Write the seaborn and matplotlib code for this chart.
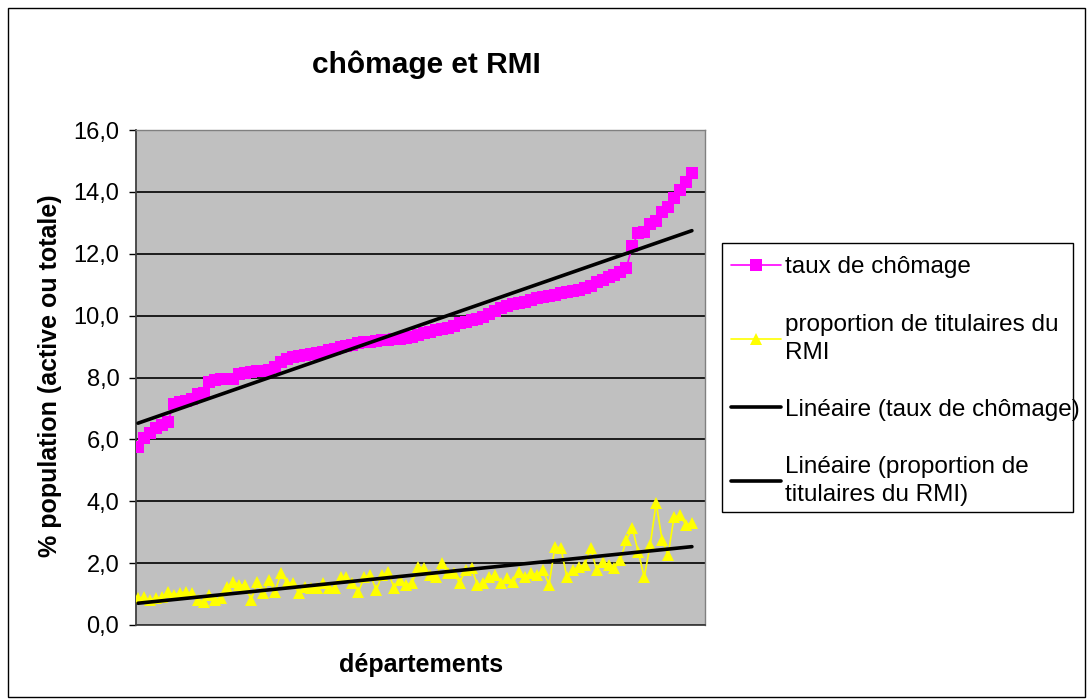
import numpy as np
import pandas as pd
import matplotlib
matplotlib.use("Agg")
import matplotlib.pyplot as plt
from matplotlib.lines import Line2D
from matplotlib.patches import Rectangle
from matplotlib.ticker import FuncFormatter
import seaborn as sns

# ---- data ----
chomage = [5.75, 6.05, 6.2, 6.38, 6.46, 6.56, 7.15, 7.2, 7.24, 7.3,
           7.47, 7.5, 7.86, 7.92, 7.95, 7.95, 7.96, 8.1, 8.15, 8.18,
           8.2, 8.2, 8.25, 8.35, 8.5, 8.6, 8.65, 8.7, 8.73, 8.76,
           8.8, 8.84, 8.88, 8.92, 8.97, 9.02, 9.06, 9.1, 9.14, 9.16,
           9.18, 9.2, 9.22, 9.24, 9.26, 9.29, 9.32, 9.38, 9.43, 9.47,
           9.52, 9.56, 9.61, 9.68, 9.76, 9.8, 9.86, 9.9, 9.97, 10.05,
           10.15, 10.25, 10.3, 10.36, 10.4, 10.45, 10.52, 10.57, 10.6, 10.62,
           10.67, 10.72, 10.75, 10.79, 10.83, 10.9, 10.97, 11.08, 11.16, 11.24,
           11.3, 11.4, 11.55, 12.25, 12.67, 12.7, 12.95, 13.05, 13.35, 13.5,
           13.8, 14.06, 14.32, 14.6]

rmi = [0.87, 0.9, 0.8, 0.87, 0.9, 1.07, 0.97, 1.03, 1.07, 1.03,
       0.8, 0.75, 0.97, 0.8, 0.87, 1.23, 1.39, 1.29, 1.29, 0.8,
       1.39, 1.03, 1.45, 1.07, 1.68, 1.36, 1.36, 1.03, 1.23, 1.2,
       1.2, 1.36, 1.2, 1.2, 1.55, 1.55, 1.36, 1.07, 1.55, 1.62,
       1.13, 1.62, 1.71, 1.2, 1.45, 1.29, 1.36, 1.87, 1.84, 1.62,
       1.55, 2.0, 1.68, 1.68, 1.36, 1.78, 1.84, 1.29, 1.36, 1.55,
       1.62, 1.36, 1.52, 1.39, 1.71, 1.55, 1.68, 1.62, 1.78, 1.29,
       2.52, 2.49, 1.55, 1.78, 1.87, 1.94, 2.49, 1.78, 2.04, 1.94,
       1.84, 2.1, 2.75, 3.13, 2.36, 1.55, 2.59, 3.94, 2.75, 2.26,
       3.49, 3.55, 3.23, 3.3]

yticks = [0, 2, 4, 6, 8, 10, 12, 14, 16]

title = "chômage et RMI"
xlabel = "départements"
ylabel = "% population (active ou totale)"
lab_chom = "taux de chômage"
lab_rmi = "proportion de titulaires du\nRMI"
lab_tr1 = "Linéaire (taux de chômage)"
lab_tr2 = "Linéaire (proportion de\ntitulaires du RMI)"

df = pd.DataFrame({"dept": np.arange(len(chomage)), "chomage": chomage, "rmi": rmi})

# ---- figure ----
sns.set_style("white")
plt.rcParams["font.family"] = ["Liberation Sans", "DejaVu Sans"]
plt.rcParams["text.color"] = "black"
plt.rcParams["axes.labelcolor"] = "black"
plt.rcParams["ytick.color"] = "black"
plt.rcParams["xtick.color"] = "black"

W, H = 1092, 700
fig = plt.figure(figsize=(W / 100, H / 100), dpi=100)
fig.patch.set_facecolor("white")

def fx(px):
    return px / W

def fy(py):
    return 1 - py / H

left, right, top, bottom = 136, 705, 130, 625
ax = fig.add_axes([fx(left), fy(bottom), fx(right) - fx(left), fy(top) - fy(bottom)])
ax.set_facecolor("#C0C0C0")

magenta = "#FF00FF"
yellow = "#FFFF00"

sns.lineplot(data=df, x="dept", y="chomage", ax=ax, color=magenta, lw=1.2,
             marker="s", markersize=8, markeredgewidth=0, markerfacecolor=magenta,
             zorder=3, legend=False)
sns.lineplot(data=df, x="dept", y="rmi", ax=ax, color=yellow, lw=1.2,
             marker="^", markersize=9, markeredgewidth=0, markerfacecolor=yellow,
             zorder=3, legend=False)

sns.regplot(data=df, x="dept", y="chomage", ax=ax, scatter=False, ci=None,
            color="black", line_kws={"lw": 2.6, "zorder": 4})
sns.regplot(data=df, x="dept", y="rmi", ax=ax, scatter=False, ci=None,
            color="black", line_kws={"lw": 2.6, "zorder": 4})

n = len(chomage)
ax.set_xlim(-0.34, n - 1 + 2.2)
ax.set_ylim(0, 16)
ax.set_yticks(yticks)
ax.yaxis.set_major_formatter(FuncFormatter(lambda v, p: f"{v:.1f}".replace(".", ",")))
ax.set_xticks([])
ax.grid(axis="y", color="black", lw=1.2, zorder=1)
ax.set_axisbelow(True)
ax.tick_params(axis="y", direction="out", length=5, width=1, color="black",
               labelcolor="black", labelsize=17, pad=7, left=True)
ax.set_xlabel("")
ax.set_ylabel("")

for s in ["top", "right"]:
    ax.spines[s].set_color("#808080")
    ax.spines[s].set_linewidth(1)
for s in ["left", "bottom"]:
    ax.spines[s].set_color("#404040")
    ax.spines[s].set_linewidth(1.3)

# titles
fig.text(fx(426), fy(65), title, ha="center", va="center", fontsize=21.5,
         fontweight="bold", color="black")
fig.text(fx(421), fy(665), xlabel, ha="center", va="center", fontsize=18,
         fontweight="bold", color="black")
fig.text(fx(50), fy(376), ylabel, ha="center", va="center", rotation=90,
         fontsize=18, fontweight="bold", color="black")

# legend
handles = [
    Line2D([], [], color=magenta, lw=1.2, marker="s", markersize=8, markeredgewidth=0),
    Line2D([], [], color=yellow, lw=1.2, marker="^", markersize=9, markeredgewidth=0),
    Line2D([], [], color="black", lw=2.6),
    Line2D([], [], color="black", lw=2.6),
]
labels = [lab_chom, lab_rmi, lab_tr1, lab_tr2]
leg = fig.legend(handles, labels, loc="upper left",
                 bbox_to_anchor=(fx(718), fy(243)), bbox_transform=fig.transFigure,
                 fontsize=17.5, frameon=False, labelcolor="black",
                 handlelength=2.05, handletextpad=0.15, labelspacing=1.45,
                 borderpad=0.55, borderaxespad=0)
for t in leg.get_texts():
    t.set_linespacing(1.35)

# legend box as in the reference
fig.add_artist(Rectangle((fx(722), fy(512)), fx(1073) - fx(722), fy(243) - fy(512),
                         transform=fig.transFigure, fill=False, edgecolor="black", lw=1,
                         zorder=0))

# outer chart border
fig.add_artist(Rectangle((fx(8), fy(697)), fx(1085) - fx(8), fy(8) - fy(697),
                         transform=fig.transFigure, fill=False, edgecolor="black", lw=1))

fig.savefig("out.png", dpi=100, facecolor="white")
